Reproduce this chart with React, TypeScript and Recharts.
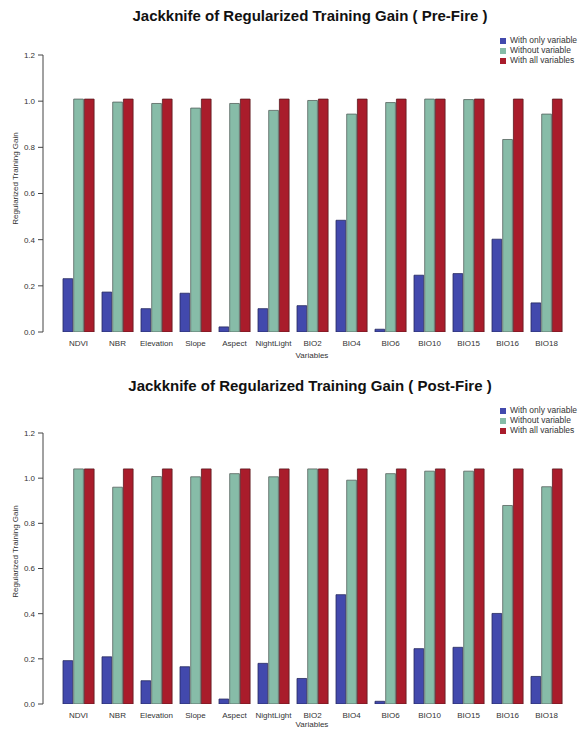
import { BarChart, Bar, XAxis, YAxis, Legend } from 'recharts';

const variables = ["NDVI", "NBR", "Elevation", "Slope", "Aspect", "NightLight", "BIO2", "BIO4", "BIO6", "BIO10", "BIO15", "BIO16", "BIO18"];

// Pre-Fire
const preOnly = [0.231, 0.173, 0.101, 0.168, 0.022, 0.101, 0.114, 0.484, 0.012, 0.246, 0.253, 0.402, 0.126];
const preWithout = [1.009, 0.996, 0.990, 0.970, 0.990, 0.960, 1.003, 0.944, 0.994, 1.009, 1.007, 0.834, 0.944];
const preAll = 1.009;

// Post-Fire
const postOnly = [0.192, 0.209, 0.103, 0.165, 0.022, 0.180, 0.113, 0.484, 0.012, 0.245, 0.251, 0.401, 0.122];
const postWithout = [1.041, 0.960, 1.007, 1.006, 1.020, 1.006, 1.041, 0.991, 1.020, 1.031, 1.031, 0.879, 0.962];
const postAll = 1.041;

const yTicks = [0, 0.2, 0.4, 0.6, 0.8, 1.0, 1.2];
const seriesNames = ["With only variable", "Without variable", "With all variables"];

const BLUE = "#4249ad";
const GREEN = "#87bca8";
const RED = "#a91c2b";
const FONT = "'Liberation Sans', Arial, sans-serif";

const buildRows = (only: number[], without: number[], all: number) =>
  variables.map((v, i) => ({ name: v, only: only[i], without: without[i], all }));

interface PanelProps {
  title: string;
  rows: any[];
  top: number;
  marginTop: number;
  axisHeight: number;
  titleY: number;
  legendY: number;
  ylabY: number;
  xlabY: number;
}

const Panel = ({ title, rows, top, marginTop, axisHeight, titleY, legendY, ylabY, xlabY }: PanelProps) => (
  <div style={{ position: 'absolute', left: 0, top, width: 581, height: 368 }}>
    <div style={{ position: 'absolute', left: 0, width: 620, top: titleY - 10, textAlign: 'center', fontFamily: FONT, fontWeight: 'bold', fontSize: 15, color: '#111' }}>
      {title}
    </div>
    <div style={{ position: 'absolute', left: 15 - 60, top: ylabY - 6, width: 120, textAlign: 'center', transform: 'rotate(-90deg)', fontFamily: FONT, fontSize: 8, color: '#333' }}>
      Regularized Training Gain
    </div>
    <div style={{ position: 'absolute', left: 262, top: xlabY - 6, width: 100, textAlign: 'center', fontFamily: FONT, fontSize: 8, color: '#333' }}>
      Variables
    </div>
    <BarChart
      width={581}
      height={368}
      data={rows}
      margin={{ top: marginTop, right: 15, left: 0, bottom: 0 }}
      barGap={1}
      style={{ fontFamily: FONT }}
    >
      <XAxis
        dataKey="name"
        height={axisHeight}
        axisLine={false}
        tickLine={false}
        tickSize={0}
        tickMargin={8}
        interval={0}
        padding={{ left: 16, right: 0 }}
        tick={{ fontSize: 8, fill: '#333' }}
      />
      <YAxis
        width={43}
        domain={[0, 1.2]}
        ticks={yTicks}
        tickFormatter={(v: number) => v.toFixed(1)}
        tickSize={5}
        tickMargin={3}
        axisLine={{ stroke: '#444' }}
        tickLine={{ stroke: '#444' }}
        tick={{ fontSize: 8, fill: '#333' }}
        allowDataOverflow
      />
      <Legend
        layout="vertical"
        verticalAlign="middle"
        align="center"
        iconType="square"
        iconSize={6}
        itemSorter={(item: any) => seriesNames.indexOf(item.value)}
        wrapperStyle={{ top: legendY - 5, left: 500, width: 90, fontSize: 8.5, lineHeight: '10px', fontFamily: FONT }}
        formatter={(v: string) => <span style={{ color: '#333' }}>{v}</span>}
      />
      <Bar dataKey="only" name={seriesNames[0]} barSize={9.7} fill={BLUE} stroke="#26295e" strokeWidth={0.8} isAnimationActive={false} />
      <Bar dataKey="without" name={seriesNames[1]} barSize={9.7} fill={GREEN} stroke="#56625d" strokeWidth={0.8} isAnimationActive={false} />
      <Bar dataKey="all" name={seriesNames[2]} barSize={9.7} fill={RED} stroke="#5a1a20" strokeWidth={0.8} isAnimationActive={false} />
    </BarChart>
  </div>
);

export default function App() {
  return (
    <div style={{ position: 'absolute', left: 0, top: 0, width: 581, height: 736, background: '#fff' }}>
      <Panel
        title="Jackknife of Regularized Training Gain ( Pre-Fire )"
        rows={buildRows(preOnly, preWithout, preAll)}
        top={0}
        marginTop={55}
        axisHeight={36}
        titleY={17}
        legendY={40}
        ylabY={180}
        xlabY={357}
      />
      <Panel
        title="Jackknife of Regularized Training Gain ( Post-Fire )"
        rows={buildRows(postOnly, postWithout, postAll)}
        top={368}
        marginTop={65}
        axisHeight={32}
        titleY={19}
        legendY={42}
        ylabY={185}
        xlabY={358}
      />
    </div>
  );
}
